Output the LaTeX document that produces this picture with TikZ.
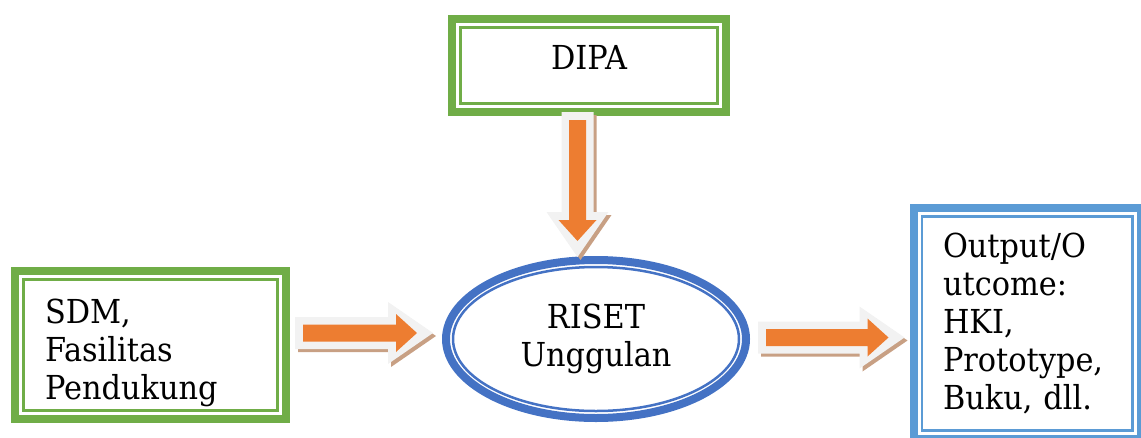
\documentclass[tikz,border=0pt]{standalone}
\usepackage{fontspec}
\setmainfont[FakeStretch=0.92]{DejaVu Serif}
\usepackage{tikz}
\usetikzlibrary{calc,shapes.geometric}

\definecolor{boxgreen}{HTML}{70AD47}
\definecolor{boxblue}{HTML}{5B9BD5}
\definecolor{ellipseblue}{HTML}{4472C4}
\definecolor{arroworange}{HTML}{ED7D31}
\definecolor{arrowgray}{HTML}{F2F2F2}
\definecolor{arrowbrown}{HTML}{C8A084}

\tikzset{
    box/.style={draw=#1, line width=8pt, outer sep=0pt, inner sep=0pt},
    thinrim/.style={draw=#1, line width=2.5pt},
    arrowrim/.style={fill=arrowgray},
    arrowshadow/.style={fill=arrowbrown},
    pics/arrowbody/.style 2 args={code={
        \fill[#2] (0,-16) -- ({#1-45},-16) -- ({#1-45},-31) -- (#1,0)
            -- ({#1-45},31) -- ({#1-45},16) -- (0,16) -- cycle;
    }},
    pics/arrowcore/.style={code={
        \fill[arroworange] (8,-8.5) -- ({#1-37},-8.5) -- ({#1-37},-19) -- ({#1-16},0)
            -- ({#1-37},19) -- ({#1-37},8.5) -- (8,8.5) -- cycle;
    }}
}

% block arrow: shadow, light rim, orange core
\def\BlockArrow from (#1) to (#2);{
    \path (#1) coordinate (ba-a) (#2) coordinate (ba-b);
    \path let \p1 = ($(ba-b)-(ba-a)$), \n1 = {veclen(\x1,\y1)}, \n2 = {atan2(\y1,\x1)} in
        (ba-a) pic[xshift=3pt, yshift=-3pt, rotate=\n2] {arrowbody={\n1}{arrowshadow}}
        (ba-a) pic[rotate=\n2] {arrowbody={\n1}{arrowrim}}
        (ba-a) pic[rotate=\n2] {arrowcore=\n1};
}

\begin{document}
\begin{tikzpicture}[x=1pt, y=-1pt, font=\fontsize{33}{38}\selectfont]
    \useasboundingbox (0,0) rectangle (1141,437);

    \node[box=boxgreen, minimum width=274, minimum height=93, text height=24pt, text depth=16pt] (dipa) at (589,65.5) {DIPA};
    \node[box=boxgreen, minimum width=271, minimum height=148, text width=211, align=left] (sdm) at (150.5,345) {\rule{0pt}{40pt}SDM,\\Fasilitas\\Pendukung};
    \node[box=ellipseblue, ellipse, minimum width=300, minimum height=158, align=center] (riset) at (596,339) {RISET\\Unggulan};
    \node[box=boxblue, minimum width=227.5, minimum height=231, text width=168.5, align=left] (output) at (1027.25,323.5) {Output/O\\utcome:\\HKI,\\Prototype,\\Buku, dll.};

    % inner thin lines
    \foreach \n/\c in {dipa/boxgreen, sdm/boxgreen, output/boxblue}
        \draw[thinrim=\c] ([shift={(8.5,8.5)}]\n.north west) rectangle ([shift={(-8.5,-8.5)}]\n.south east);
    \draw[thinrim=ellipseblue] (riset.center) ellipse [x radius=143, y radius=72];

    \BlockArrow from ([xshift=-11.5pt]dipa.south) to ([shift={(-18.5,-3)}]riset.north);
    \BlockArrow from ([shift={(9,-12)}]sdm.east) to ([shift={(-13,-6)}]riset.west);
    \BlockArrow from ([shift={(12,-1.5)}]riset.east) to ([shift={(-9,14)}]output.west);
\end{tikzpicture}
\end{document}
